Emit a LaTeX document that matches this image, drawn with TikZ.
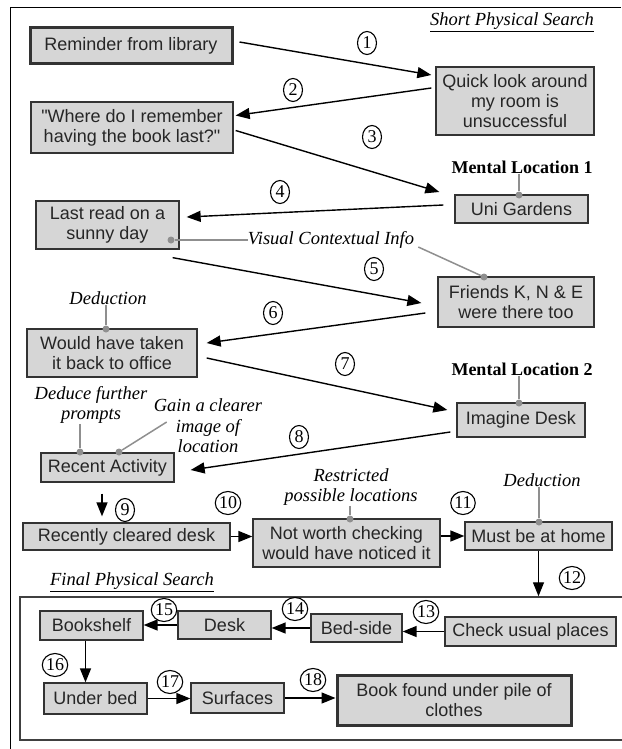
\documentclass[tikz,border=0pt]{standalone}
\usepackage{fontspec}
\setmainfont{Liberation Serif}
\setsansfont{Liberation Sans}
\usetikzlibrary{arrows.meta,shapes.geometric}
\definecolor{boxfill}{HTML}{D6D6D6}
\definecolor{conn}{HTML}{8F8F8F}
\begin{document}
\begin{tikzpicture}[x=1pt,y=-1pt,
  box/.style={draw=black!80, line width=1.3pt, fill=boxfill, align=center, inner sep=0pt,
    font=\sffamily\fontsize{18}{20}\selectfont, text=black!85},
  thickbox/.style={box, line width=3pt},
  num/.style={draw, ellipse, line width=1.1pt, minimum width=19pt, minimum height=23pt,
    inner sep=0pt, font=\fontsize{18}{18}\selectfont},
  lab/.style={font=\itshape\fontsize{18.5}{20.5}\selectfont, align=center, inner sep=0pt},
  mlab/.style={font=\bfseries\fontsize{18}{20}\selectfont, inner sep=0pt},
  arr/.style={line width=1.4pt, -{Triangle[length=14pt,width=11pt]}},
  gline/.style={conn, line width=1.5pt},
  gdot/.style={circle, fill=conn, inner sep=0pt, minimum size=7pt},
]
\useasboundingbox (0,0) rectangle (621,749);
\fill[white] (0,0) rectangle (621,749);
% outer frame
\draw[line width=1.8pt] (10.5,749) -- (10.5,7.5) -- (621,7.5);

% headings
\node[lab] (sps) at (512,22) {\underline{Short Physical Search}};
\node[lab] (fps) at (132,582) {\underline{Final Physical Search}};

% final search frame (its right side runs off the picture)
\node[draw=black!75, line width=1.5pt, minimum width=620pt, minimum height=143pt, inner sep=0pt] (final) at (330,668.5) {};

% boxes
\node[thickbox, minimum width=202pt, minimum height=36pt] (rem) at (131,46) {Reminder from library};
\node[box, minimum width=158pt, minimum height=68pt] (quick) at (515,101) {Quick look around\\my room is\\unsuccessful};
\node[box, minimum width=202pt, minimum height=51pt] (where) at (132,127.5) {\textquotedbl Where do I remember\\having the book last?\textquotedbl};
\node[box, minimum width=133pt, minimum height=28pt] (uni) at (521.5,209) {Uni Gardens};
\node[box, minimum width=143pt, minimum height=48pt] (last) at (107.5,225) {Last read on a\\sunny day};
\node[box, minimum width=156pt, minimum height=50pt] (friends) at (516,302) {Friends K, N \& E\\were there too};
\node[box, minimum width=170pt, minimum height=48pt] (would) at (112,353) {Would have taken\\it back to office};
\node[box, minimum width=128pt, minimum height=34pt] (imagine) at (521,420) {Imagine Desk};
\node[box, minimum width=133pt, minimum height=29pt] (recent) at (107.5,467.5) {Recent Activity};
\node[box, minimum width=207pt, minimum height=27pt] (cleared) at (126.5,536.5) {Recently cleared desk};
\node[box, minimum width=187pt, minimum height=48pt] (notworth) at (346.5,543) {Not worth checking\\would have noticed it};
\node[box, minimum width=147pt, minimum height=28pt] (home) at (538.5,536) {Must be at home};
\node[box, minimum width=171pt, minimum height=29pt] (check) at (530.5,631.5) {Check usual places};
\node[box, minimum width=91pt, minimum height=28pt] (bedside) at (356.5,628) {Bed-side};
\node[box, minimum width=93pt, minimum height=28pt] (desk) at (224.5,625) {Desk};
\node[box, minimum width=103pt, minimum height=29pt] (bookshelf) at (91.5,625.5) {Bookshelf};
\node[box, minimum width=103pt, minimum height=31pt] (underbed) at (95.5,698.5) {Under bed};
\node[box, minimum width=93pt, minimum height=30pt] (surfaces) at (237.5,698) {Surfaces};
\node[thickbox, minimum width=234pt, minimum height=50pt] (book) at (454,700) {Book found under pile of\\clothes};

% annotation labels
\node[mlab] (ml1) at (522,167) {Mental Location 1};
\node[lab] (vci) at (331,240) {Visual Contextual Info};
\node[lab] (ded1) at (108,298) {Deduction};
\node[mlab] (ml2) at (522,369) {Mental Location 2};
\node[lab] (dfp) at (91,405) {Deduce further\\prompts};
\node[lab] (gain) at (208,426) {Gain a clearer\\image of\\location};
\node[lab] (restr) at (351,487) {Restricted\\possible locations};
\node[lab] (ded2) at (542,480) {Deduction};

% grey connectors
\node[gdot] (d1) at (519,195) {};
\draw[gline] (ml1.south -| d1) -- (d1);
\node[gdot] (d2) at (171,240) {};
\draw[gline] (d2) -- (vci.west);
\node[gdot] (d3) at (484,277) {};
\draw[gline] ([shift={(4,7)}]vci.east) -- (d3);
\node[gdot] (d4) at (106,329) {};
\draw[gline] (ded1.south -| d4) -- (d4);
\node[gdot] (d5) at (519,403) {};
\draw[gline] (ml2.south -| d5) -- (d5);
\node[gdot] (d6) at (80,452) {};
\draw[gline] (dfp.south -| d6) -- (d6);
\node[gdot] (d7) at (119,452) {};
\draw[gline] ([shift={(13,-4)}]gain.west) -- (d7);
\node[gdot] (d8) at (350,519) {};
\draw[gline] (restr.south -| d8) -- (d8);
\node[gdot] (d9) at (539,522) {};
\draw[gline] (ded2.south -| d9) -- (d9);

% numbered circles
\node[num] (n1) at (367,43) {1};
\node[num] (n2) at (293,90) {2};
\node[num] (n3) at (372,137) {3};
\node[num] (n4) at (280,192) {4};
\node[num] (n5) at (374,269) {5};
\node[num] (n6) at (273,313) {6};
\node[num] (n7) at (345,364) {7};
\node[num] (n8) at (299,437) {8};
\node[num] (n9) at (125,510) {9};
\node[num] (n10) at (228,503) {10};
\node[num] (n11) at (463,503) {11};
\node[num] (n12) at (572,578) {12};
\node[num] (n13) at (426,612) {13};
\node[num] (n14) at (295,609) {14};
\node[num] (n15) at (164,610) {15};
\node[num] (n16) at (55,665) {16};
\node[num] (n17) at (170,682) {17};
\node[num] (n18) at (313,680) {18};

% arrows
\draw[arr] ([shift={(6,-4)}]rem.east) -- ([shift={(-4,-26)}]quick.west);
\draw[arr] ([shift={(-4,-13)}]quick.west) -- ([shift={(2,-12)}]where.east);
\draw[arr] ([shift={(2,3)}]where.east) -- ([shift={(-15,-17)}]uni.west);
\draw[arr] ([shift={(-11,-4)}]uni.west) -- ([shift={(7,-8)}]last.east);
\draw[arr] ([shift={(-7,8)}]last.south east) -- ([shift={(-16,1)}]friends.west);
\draw[arr] ([shift={(-12,11)}]friends.west) -- ([shift={(9,-10)}]would.east);
\draw[arr] ([shift={(9,5)}]would.east) -- ([shift={(-9,-10)}]imagine.west);
\draw[arr] ([shift={(-6,12)}]imagine.west) -- ([shift={(16,2.5)}]recent.east);
\coordinate (a9s) at ([shift={(-5.5,11)}]recent.south);
\path (a9s |- cleared.north) coordinate (a9t);
\draw[arr] (a9s) -- ([shift={(0,-6)}]a9t);
\draw[arr] (cleared.east) -- (cleared.east -| notworth.west);
\draw[arr] (home.west -| notworth.east) -- (home.west);
\draw[arr] (home.south) -- (home.south |- final.north);
\draw[arr] (check.west) -- (check.west -| bedside.east);
\draw[arr] (bedside.west) -- (bedside.west -| desk.east);
\draw[arr] (desk.west) -- (desk.west -| bookshelf.east);
\coordinate (a16) at ([shift={(-6,0)}]bookshelf.south);
\draw[arr] (a16) -- (a16 |- underbed.north);
\draw[arr] (underbed.east) -- (underbed.east -| surfaces.west);
\draw[arr] (surfaces.east) -- (surfaces.east -| book.west);
\end{tikzpicture}
\end{document}
